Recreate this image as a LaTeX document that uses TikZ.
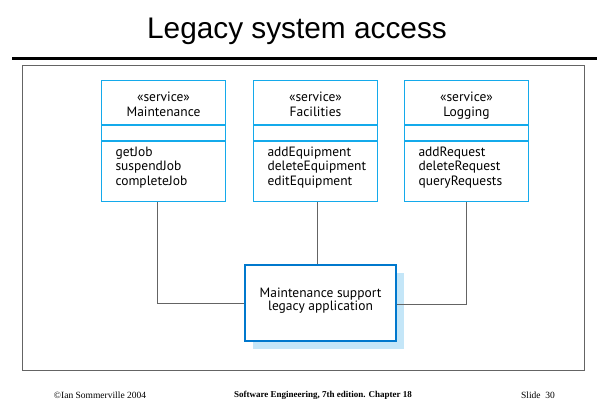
\documentclass[tikz,border=0pt]{standalone}
\usepackage{fontspec}
\setmainfont{Liberation Serif}
\newfontfamily\titlefont{Liberation Sans}
\newfontfamily\umlfont{PT Sans}
\usetikzlibrary{positioning,shadows}

\definecolor{umlblue}{RGB}{20,170,235}
\definecolor{appblue}{RGB}{0,120,205}
\definecolor{shadowblue}{RGB}{196,230,248}
\definecolor{linkgray}{RGB}{100,100,100}

\tikzset{
  head/.style={draw, color=umlblue, text=black, line width=1pt, minimum width=124pt, minimum height=44pt,
    inner sep=0pt, align=center, font=\umlfont\fontsize{13.5}{15}\selectfont},
  attr/.style={draw, color=umlblue, line width=1pt, minimum width=124pt, minimum height=15pt, inner sep=0pt},
  ops/.style={draw, color=umlblue, text=black, line width=1pt, minimum width=124pt, minimum height=60pt,
    inner sep=0pt, text width=96pt, align=left, font=\umlfont\fontsize{13.5}{14.5}\selectfont},
  app/.style={draw, color=appblue, text=black, line width=2pt, fill=white, minimum width=151pt, minimum height=76pt,
    inner sep=0pt, align=center, font=\umlfont\fontsize{13.5}{13.5}\selectfont,
    drop shadow={shadow xshift=8pt, shadow yshift=-8pt, opacity=1, fill=shadowblue}},
  link/.style={draw, color=linkgray, line width=1pt}
}

\begin{document}
\begin{tikzpicture}[x=1pt,y=-1pt]
\useasboundingbox (0,0) rectangle (597,402);

% title and frame
\node[font=\titlefont\fontsize{29.8}{34}\selectfont] (title) at (297,31) {Legacy system access};
\draw[line width=3pt] (12,58.5) -- (597,58.5);
\draw[color=linkgray, line width=1pt] (22.5,65.5) rectangle (584.5,370.5);

% services
\node[head] (mhead) at (163.5,102.5) {\guillemotleft service\guillemotright\\Maintenance\\[-18pt]};
\node[attr, below=0pt of mhead] (mattr) {};
\node[ops, below=0pt of mattr] (mops) {getJob\\suspendJob\\completeJob\\[-3.5pt]\mbox{}};

\node[head] (fhead) at (315.5,102.5) {\guillemotleft service\guillemotright\\Facilities\\[-18pt]};
\node[attr, below=0pt of fhead] (fattr) {};
\node[ops, below=0pt of fattr] (fops) {addEquipment\\deleteEquipment\\editEquipment\\[-3.5pt]\mbox{}};

\node[head] (lhead) at (466.5,102.5) {\guillemotleft service\guillemotright\\Logging\\[-18pt]};
\node[attr, below=0pt of lhead] (lattr) {};
\node[ops, below=0pt of lattr] (lops) {addRequest\\deleteRequest\\queryRequests\\[-3.5pt]\mbox{}};

% legacy application
\node[app] (legacy) at (320.5,303) {Maintenance support\\legacy application\\[-5.5pt]};

\draw[link] ([xshift=-6pt]mops.south) |- ([yshift=-0.5pt]legacy.west);
\draw[link] ([xshift=2pt]fops.south) -- ([xshift=-3pt]legacy.north);
\draw[link] (lops.south) |- ([yshift=-1.5pt]legacy.east);

% footer
\node[font=\fontsize{9.5}{11}\selectfont] (copy) at (100,395) {\textcopyright Ian Sommerville 2004};
\node[font=\bfseries\fontsize{9}{11}\selectfont] (book) at (323,395) {Software Engineering, 7th edition. Chapter 18};
\node[font=\fontsize{9.5}{11}\selectfont] (slide) at (538,395) {Slide\ \ 30};
\end{tikzpicture}
\end{document}
